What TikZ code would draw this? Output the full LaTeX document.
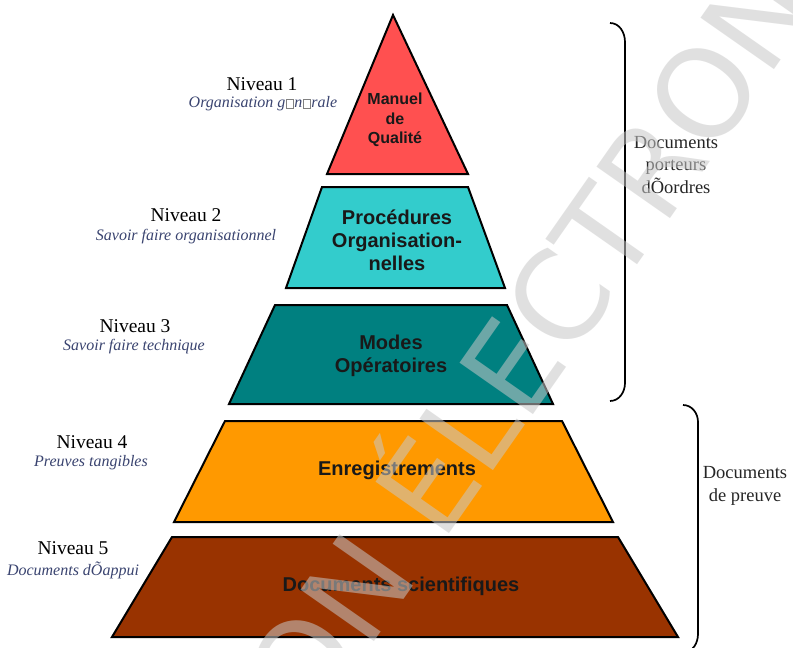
\documentclass[tikz,border=0pt]{standalone}
\usepackage{fontspec}
\setmainfont{Liberation Serif}
\setsansfont{Liberation Sans}
\newfontfamily\wmfont{DejaVu Sans}
\usetikzlibrary{calc}
\definecolor{lvred}{HTML}{FF5050}
\definecolor{lvcyan}{HTML}{33CCCC}
\definecolor{lvteal}{HTML}{008080}
\definecolor{lvorange}{HTML}{FF9900}
\definecolor{lvbrown}{HTML}{993300}
\definecolor{subblue}{HTML}{3A4470}
\definecolor{wmgray}{RGB}{200,200,200}
\newcommand\missglyph{{\color{gray}\setlength\fboxsep{0pt}\setlength\fboxrule{0.5pt}\kern0.8pt\fbox{\rule{0pt}{0.52em}\rule{0.4em}{0pt}}\kern0.8pt}}
\tikzset{
  layer/.style={draw=black, line width=2pt, line join=miter},
  inner/.style={font=\sffamily\bfseries\fontsize{20}{23}\selectfont, align=center, text=black!90, inner sep=0pt},
  lvl/.style={font=\rmfamily\fontsize{19.5}{22}\selectfont, text=black, inner sep=0pt},
  lvsub/.style={font=\rmfamily\itshape\fontsize{16}{19}\selectfont, text=subblue, inner sep=0pt},
  side/.style={font=\rmfamily\fontsize{18.5}{22.5}\selectfont, align=center, text=black!85, inner sep=0pt},
  brace/.style={draw=black, line width=1.7pt},
  watermark/.style={font=\wmfont\fontsize{123}{123}\selectfont, text=wmgray, text opacity=0.55, inner sep=0pt, rotate=55, anchor=base west}
}
\begin{document}
\begin{tikzpicture}[x=1pt,y=-1pt]
\useasboundingbox[fill=white] (0,0) rectangle (793,648);

% pyramid layers
\draw[layer, fill=lvred]    (393,15) -- (468,174) -- (327,174) -- cycle;
\draw[layer, fill=lvcyan]   (322,187) -- (468,187) -- (505,288) -- (286,288) -- cycle;
\draw[layer, fill=lvteal]   (275,305) -- (507,305) -- (553,404) -- (229,404) -- cycle;
\draw[layer, fill=lvorange] (225,421) -- (562,421) -- (613,522) -- (174,522) -- cycle;
\draw[layer, fill=lvbrown]  (172,537) -- (618,537) -- (678,637) -- (112,637) -- cycle;

% layer texts
\node[inner, font=\sffamily\bfseries\fontsize{16}{19.5}\selectfont] (t1) at (395,120) {Manuel\\de\\Qualité};
\node[inner] (t2) at (397,240) {Procédures\\Organisation-\\nelles};
\node[inner] (t3) at (391,356) {Modes\\Opératoires};
\node[inner] (t4) at (397,470) {Enregistrements};
\node[inner] (t5) at (401,586) {Documents scientifiques};

% level labels
\node[lvl] (n1) at (262,84) {Niveau 1};
\node[lvsub] (s1) at (263,104) {Organisation g\missglyph n\missglyph rale};
\node[lvl] (n2) at (186,215) {Niveau 2};
\node[lvsub] (s2) at (186,237) {Savoir faire organisationnel};
\node[lvl] (n3) at (135,326) {Niveau 3};
\node[lvsub] (s3) at (134,347) {Savoir faire technique};
\node[lvl] (n4) at (92,442) {Niveau 4};
\node[lvsub] (s4) at (91,463) {Preuves tangibles};
\node[lvl] (n5) at (73,548) {Niveau 5};
\node[lvsub] (s5) at (73,570) {Documents dÕappui};

% braces
\coordinate (b1a) at (610,23);
\coordinate (b1b) at (625,42);
\coordinate (b1c) at (625,383);
\coordinate (b1d) at (610,401);
\draw[brace] (b1a) to[out=0,in=90] (b1b) -- (b1c) to[out=-90,in=0] (b1d);
\coordinate (b2a) at (683,405);
\coordinate (b2b) at (698,422);
\coordinate (b2c) at (698,634);
\coordinate (b2d) at (684,652);
\draw[brace] (b2a) to[out=0,in=90] (b2b) -- (b2c) to[out=-90,in=0] (b2d);

\node[side] (r1) at (676,165) {Documents\\porteurs\\dÕordres};
\node[side] (r2) at (745,486) {Documents\\de preuve};

% watermark
\begin{scope}
\clip (0,0) rectangle (793,648);
\node[watermark] (wm) at (104,1027) {VERSION ÉLECTRONIQUE};
\end{scope}
\end{tikzpicture}
\end{document}
